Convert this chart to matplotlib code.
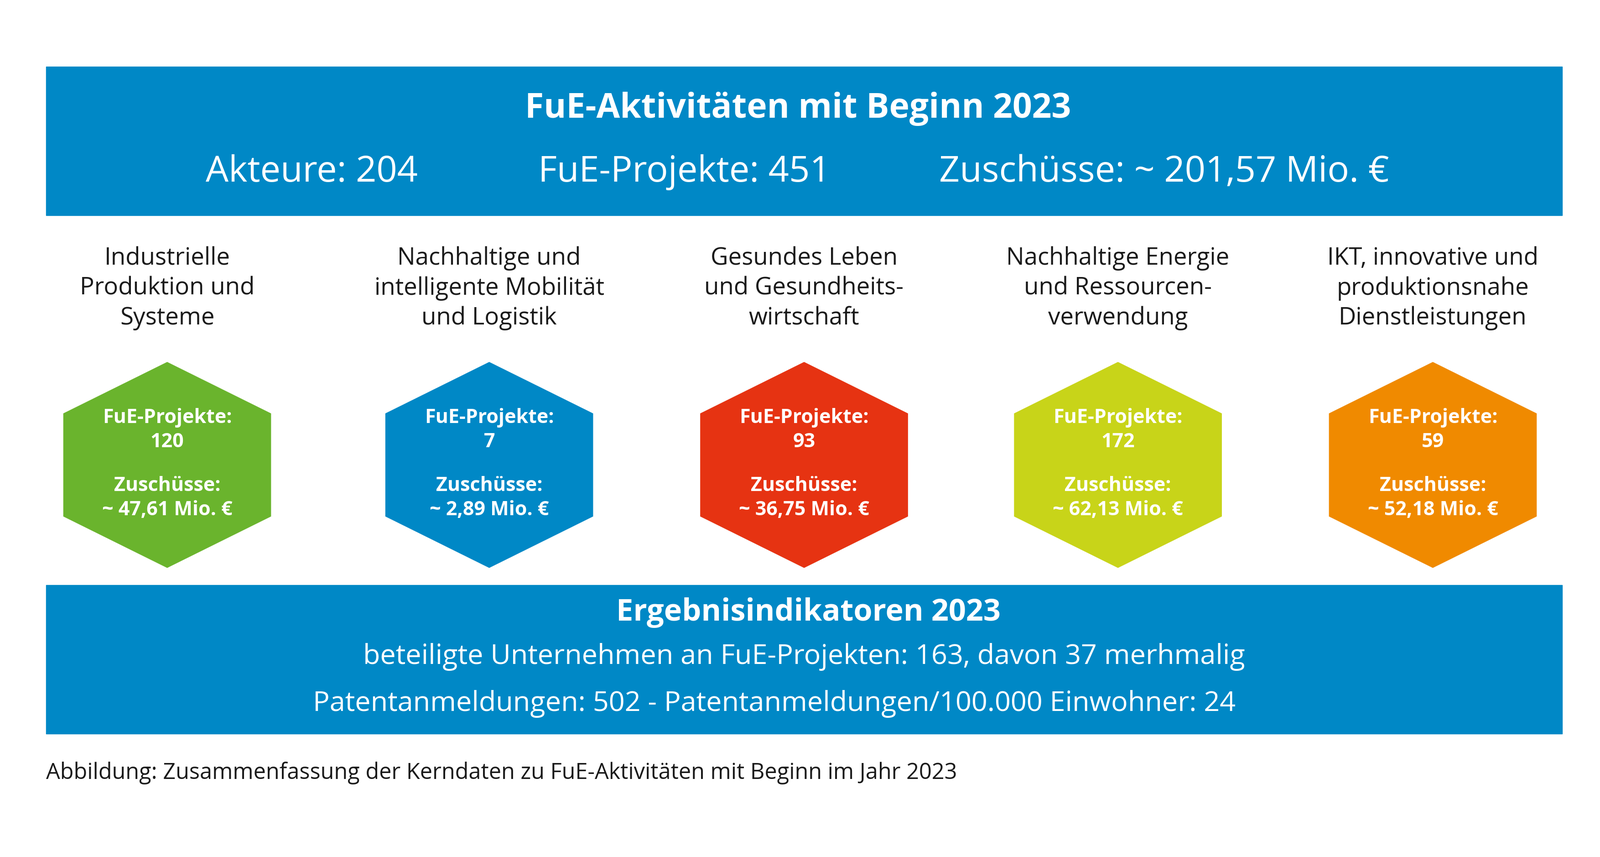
import matplotlib
matplotlib.use('Agg')
import matplotlib.pyplot as plt
from matplotlib.patches import Polygon, Rectangle

# ----------------- Data -----------------
categories = ["Industrielle\nProduktion und\nSysteme",
              "Nachhaltige und\nintelligente Mobilität\nund Logistik",
              "Gesundes Leben\nund Gesundheits-\nwirtschaft",
              "Nachhaltige Energie\nund Ressourcen-\nverwendung",
              "IKT, innovative und\nproduktionsnahe\nDienstleistungen"]
projekte = [120, 7, 93, 172, 59]
zuschuesse = ["47,61", "2,89", "36,75", "62,13", "52,18"]
hex_colors = ["#6AB42D", "#0088C6", "#E63312", "#C8D419", "#F08A00"]

title = "FuE-Aktivitäten mit Beginn 2023"
summary = ["Akteure: 204", "FuE-Projekte: 451", "Zuschüsse: ~ 201,57 Mio. €"]
result_title = "Ergebnisindikatoren 2023"
result_lines = ["beteiligte Unternehmen an FuE-Projekten: 163, davon 37 merhmalig",
                "Patentanmeldungen: 502 - Patentanmeldungen/100.000 Einwohner: 24"]
caption = "Abbildung: Zusammenfassung der Kerndaten zu FuE-Aktivitäten mit Beginn im Jahr 2023"

BLUE = "#0088C6"
FONT = "Open Sans"

# layout in reference pixel units (1560 x 835)
fig = plt.figure(figsize=(35.08, 18.78), dpi=100)
ax = fig.add_axes([0, 0, 1, 1])
ax.set_xlim(0, 1560)
ax.set_ylim(835, 0)
ax.axis('off')

ax.add_patch(Rectangle((45, 65), 1478, 145, color=BLUE))
ax.add_patch(Rectangle((45, 570), 1478, 145, color=BLUE))

ax.text(778, 106, title, ha='center', va='center', color='white',
        fontsize=54, fontweight='bold', family=FONT)
for x, t in zip([304, 667, 1135], summary):
    ax.text(x, 168, t, ha='center', va='center', color='white',
            fontsize=57, family=FONT)

centers = [163, 477, 784, 1090, 1397]
for cx, cat, p, z, c in zip(centers, categories, projekte, zuschuesse, hex_colors):
    ax.text(cx, 281, cat, ha='center', va='center', fontsize=38,
            family=FONT, linespacing=1.3, color='#1a1a1a')
    cy, hw, r = 453, 101, 100
    pts = [(cx, cy - r), (cx + hw, cy - r / 2), (cx + hw, cy + r / 2),
           (cx, cy + r), (cx - hw, cy + r / 2), (cx - hw, cy - r / 2)]
    ax.add_patch(Polygon(pts, closed=True, color=c))
    ax.text(cx, 419, f"FuE-Projekte:\n{p}", ha='center', va='center', color='white',
            fontsize=31, fontweight='bold', family=FONT, linespacing=1.3)
    ax.text(cx, 485, f"Zuschüsse:\n~ {z} Mio. €", ha='center', va='center', color='white',
            fontsize=31, fontweight='bold', family=FONT, linespacing=1.3)

ax.text(788, 597, result_title, ha='center', va='center', color='white',
        fontsize=48, fontweight='bold', family=FONT)
ax.text(784, 640, result_lines[0], ha='center', va='center', color='white',
        fontsize=44, family=FONT)
ax.text(755, 686, result_lines[1], ha='center', va='center', color='white',
        fontsize=44, family=FONT)

ax.text(45, 753, caption, ha='left', va='center', fontsize=35, family=FONT, color='#1a1a1a')

fig.savefig("out.png", dpi=100)
